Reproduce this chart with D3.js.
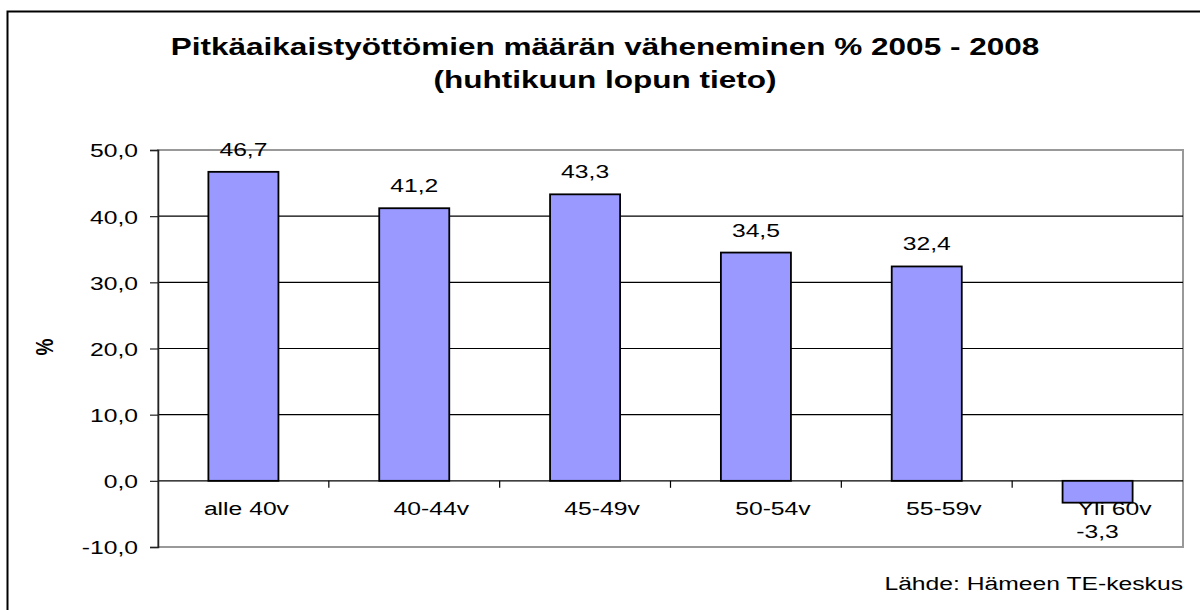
<!DOCTYPE html>
<html lang="fi">

<head>
    <script src="https://d3js.org/d3.v7.min.js"></script>
    <meta charset="utf-8" />
    <style>
        body { margin: 0; background: #fff; }
        text { font-family: "Liberation Sans", Arial, sans-serif; fill: #000; }
    </style>
</head>

<body>
    <script>

        const w = 1200;
        const h = 610;

        // data
        const categories = ["alle 40v", "40-44v", "45-49v", "50-54v", "55-59v", "Yli 60v"];
        const values = [46.7, 41.2, 43.3, 34.5, 32.4, -3.3];
        const yTicks = [-10, 0, 10, 20, 30, 40, 50];
        const titleLines = ["Pitkäaikaistyöttömien määrän väheneminen % 2005 - 2008", "(huhtikuun lopun tieto)"];
        const source = "Lähde: Hämeen TE-keskus";

        // the picture is stretched sideways, so text is too
        const sx = 1.3;
        const fs = "19px";
        const fmt = v => d3.format(".1f")(v).replace(".", ",").replace("\u2212", "-");

        const plot = { left: 158, right: 1183, top: 150, bottom: 547 };

        const xScale = d3.scaleBand()
            .domain(categories)
            .range([plot.left, plot.right])
            .paddingInner(0.59)
            .paddingOuter(0.295);

        const band = d3.scaleBand()
            .domain(categories)
            .range([plot.left, plot.right]);

        const yScale = d3.scaleLinear()
            .domain([-10, 50])
            .range([plot.bottom, plot.top]);

        const svg = d3.select("body")
            .append("svg")
            .attr("width", w)
            .attr("height", h);

        // outer frame
        svg.append("rect")
            .attr("x", 7.5)
            .attr("y", 11.5)
            .attr("width", 1300)
            .attr("height", 700)
            .attr("fill", "white")
            .attr("stroke", "black")
            .attr("stroke-width", 2);

        // title
        svg.selectAll(".title")
            .data(titleLines)
            .enter()
            .append("text")
            .attr("class", "title")
            .attr("transform", (d, i) => `translate(605, ${55 + i * 33}) scale(1.37,1)`)
            .attr("text-anchor", "middle")
            .style("font-size", "23px")
            .style("font-weight", "bold")
            .text(d => d);

        // plot frame (grey)
        svg.append("rect")
            .attr("x", plot.left)
            .attr("y", plot.top)
            .attr("width", plot.right - plot.left)
            .attr("height", plot.bottom - plot.top)
            .attr("fill", "none")
            .attr("stroke", "#999")
            .attr("stroke-width", 2);

        // gridlines
        svg.selectAll(".grid")
            .data(yTicks.filter(t => t > -10 && t < 50))
            .enter()
            .append("line")
            .attr("class", "grid")
            .attr("x1", plot.left)
            .attr("x2", plot.right)
            .attr("y1", d => yScale(d))
            .attr("y2", d => yScale(d))
            .attr("stroke", "black")
            .attr("stroke-width", 1.2);

        // y axis
        const yAxis = d3.axisLeft(yScale)
            .tickValues(yTicks)
            .tickSize(8)
            .tickPadding(12)
            .tickFormat(fmt);

        const gy = svg.append("g")
            .attr("transform", `translate(${plot.left}, 0)`)
            .call(yAxis);
        gy.select(".domain").attr("stroke", "#222").attr("stroke-width", 1.5);
        gy.selectAll(".tick line").attr("stroke", "#222").attr("stroke-width", 1.2);
        gy.selectAll(".tick text")
            .style("font-size", fs)
            .style("font-family", "'Liberation Sans', Arial, sans-serif")
            .attr("fill", "black")
            .attr("dy", "0.36em")
            .attr("transform", function () {
                const x = +d3.select(this).attr("x");
                return `translate(${x},0) scale(${sx},1)`;
            })
            .attr("x", 0);

        // category ticks on the zero line
        svg.selectAll(".ctick")
            .data(categories.slice(1))
            .enter()
            .append("line")
            .attr("class", "ctick")
            .attr("x1", d => band(d))
            .attr("x2", d => band(d))
            .attr("y1", yScale(0))
            .attr("y2", yScale(0) + 7)
            .attr("stroke", "black")
            .attr("stroke-width", 1.2);

        // bars
        svg.selectAll(".bar")
            .data(values)
            .enter()
            .append("rect")
            .attr("class", "bar")
            .attr("x", (d, i) => xScale(categories[i]))
            .attr("y", d => yScale(Math.max(d, 0)))
            .attr("width", xScale.bandwidth())
            .attr("height", d => Math.abs(yScale(d) - yScale(0)))
            .attr("fill", "#9999ff")
            .attr("stroke", "black")
            .attr("stroke-width", 1.8);

        // category labels
        svg.selectAll(".cat")
            .data(categories)
            .enter()
            .append("text")
            .attr("class", "cat")
            .attr("transform", (d, i) => `translate(${band(d) + band.bandwidth() / 2 + (i === 0 ? 3 : 17)}, 515) scale(${sx},1)`)
            .attr("text-anchor", "middle")
            .style("font-size", fs)
            .text(d => d);

        // value labels
        svg.selectAll(".val")
            .data(values)
            .enter()
            .append("text")
            .attr("class", "val")
            .attr("transform", (d, i) => {
                const x = band(categories[i]) + band.bandwidth() / 2;
                const y = d >= 0 ? yScale(d) - 16 : yScale(d) + 35;
                return `translate(${x}, ${y}) scale(${sx},1)`;
            })
            .attr("text-anchor", "middle")
            .style("font-size", fs)
            .text(d => fmt(d));

        // y axis title
        svg.append("text")
            .attr("transform", `translate(53, 347) scale(${sx},1) rotate(-90)`)
            .attr("text-anchor", "middle")
            .style("font-size", fs)
            .style("font-weight", "bold")
            .text("%");

        // source
        svg.append("text")
            .attr("transform", `translate(1183, 590) scale(${sx},1)`)
            .attr("text-anchor", "end")
            .style("font-size", fs)
            .text(source);

    </script>
</body>

</html>
